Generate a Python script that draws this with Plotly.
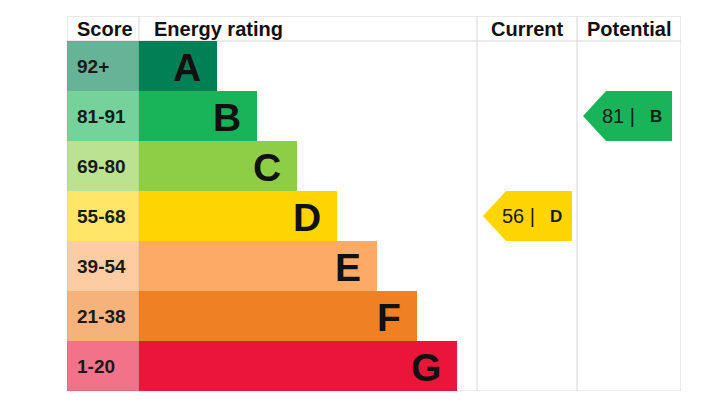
import plotly.graph_objects as go

# EPC bands, top (best) to bottom
bands = ["A", "B", "C", "D", "E", "F", "G"]
score_ranges = ["92+", "81-91", "69-80", "55-68", "39-54", "21-38", "1-20"]
band_colors = ["#008054", "#19b459", "#8dce46", "#ffd500", "#fcaa65", "#ef8023", "#e9153b"]
band_length = [78, 118, 158, 198, 238, 278, 318]

current_score, current_band = 56, "D"
potential_score, potential_band = 81, "B"

headers = ["Score", "Energy rating", "Current", "Potential"]

FONT = "Liberation Sans, Arial, sans-serif"
GRID = "#d6d6d6"

# column edges in x-axis units (table is 614 wide)
col_edges = [0, 72, 410, 510, 614]
n = len(bands)
y_center = [n - i - 0.5 for i in range(n)]  # A at top
header_y = n + 0.25

fig = go.Figure()

# score column (lighter shade of each band)
fig.add_trace(go.Bar(
    y=y_center, x=[col_edges[1] - col_edges[0]] * n, base=col_edges[0],
    orientation="h", width=1, marker=dict(color=band_colors, opacity=0.6, line=dict(width=0)),
    hoverinfo="skip", showlegend=False))

# energy rating bars
fig.add_trace(go.Bar(
    y=y_center, x=band_length, base=col_edges[1],
    orientation="h", width=1, marker=dict(color=band_colors, line=dict(width=0)),
    hoverinfo="skip", showlegend=False))

# pointer arrows for current / potential
def arrow(col, score, band):
    r = bands.index(band)
    yc = y_center[r]
    tip = col_edges[col] + 6
    corner = tip + 23
    right = tip + 89
    fig.add_trace(go.Scatter(
        x=[tip, corner, right, right, corner, tip],
        y=[yc, yc + 0.5, yc + 0.5, yc - 0.5, yc - 0.5, yc],
        fill="toself", fillcolor=band_colors[r], mode="lines", line=dict(width=0),
        hoverinfo="skip", showlegend=False))
    fig.add_annotation(x=tip + 17, y=yc, text=f"{score} |", showarrow=False,
                       xanchor="left", yanchor="middle",
                       font=dict(family=FONT, size=20, color="#1a1a1a"))
    fig.add_annotation(x=tip + 73, y=yc, text=f"<b>{band}</b>", showarrow=False,
                       xanchor="center", yanchor="middle",
                       font=dict(family=FONT, size=17, color="#1a1a1a"))

arrow(2, current_score, current_band)
arrow(3, potential_score, potential_band)

# labels
for i in range(n):
    fig.add_annotation(x=col_edges[0] + 8, y=y_center[i], text=f"<b>{score_ranges[i]}</b>",
                       showarrow=False, xanchor="left", yanchor="middle",
                       font=dict(family=FONT, size=19, color="#1a1a1a"))
    fig.add_annotation(x=col_edges[1] + band_length[i] - 14, y=y_center[i] - 0.02,
                       text=f"<b>{bands[i]}</b>", showarrow=False,
                       xanchor="right", yanchor="middle",
                       font=dict(family=FONT, size=39, color="#111111"))

fig.add_annotation(x=col_edges[0] + 8, y=header_y, text="<b>Score</b>", showarrow=False,
                   xanchor="left", yanchor="middle", font=dict(family=FONT, size=20, color="#111"))
fig.add_annotation(x=col_edges[1] + 13, y=header_y, text="<b>Energy rating</b>", showarrow=False,
                   xanchor="left", yanchor="middle", font=dict(family=FONT, size=20, color="#111"))
for c, h in [(2, headers[2]), (3, headers[3])]:
    fig.add_annotation(x=(col_edges[c] + col_edges[c + 1]) / 2, y=header_y, text=f"<b>{h}</b>",
                       showarrow=False, xanchor="center", yanchor="middle",
                       font=dict(family=FONT, size=20, color="#111"))

# table grid
for xe in col_edges:
    fig.add_shape(type="line", x0=xe, x1=xe, y0=0, y1=n + 0.5, layer="below",
                  line=dict(color=GRID, width=1))
fig.add_shape(type="line", x0=0, x1=col_edges[-1], y0=n, y1=n, layer="below",
              line=dict(color=GRID, width=1))
fig.add_shape(type="line", x0=0, x1=col_edges[-1], y0=n + 0.5, y1=n + 0.5, layer="below",
              line=dict(color=GRID, width=1))
fig.add_shape(type="line", x0=0, x1=col_edges[-1], y0=0, y1=0, layer="below",
              line=dict(color=GRID, width=1))

# page body adds an 8px offset, margins compensate
fig.update_layout(
    width=726, height=416,
    margin=dict(l=59, r=53, t=8, b=33),
    paper_bgcolor="white", plot_bgcolor="white",
    barmode="overlay", bargap=0,
    xaxis=dict(range=[0, 614], visible=False, fixedrange=True),
    yaxis=dict(range=[0, n + 0.5], visible=False, fixedrange=True),
)

fig.write_html("out.html")
